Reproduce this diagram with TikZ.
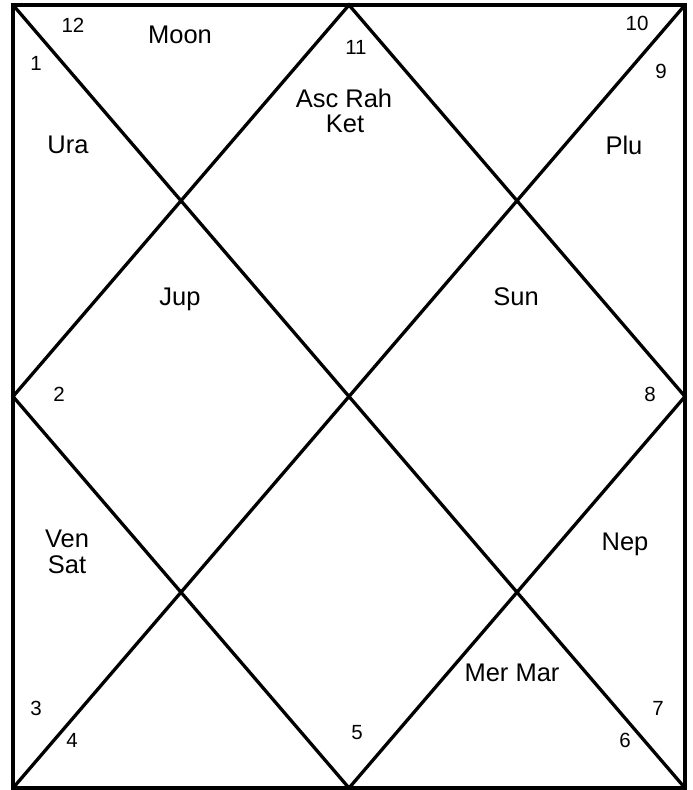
\documentclass[tikz,border=0pt]{standalone}
\usepackage{fontspec}
\setmainfont{Liberation Sans}
\begin{document}
\begin{tikzpicture}[x=1pt,y=-1pt,
  chartline/.style={line width=3.3pt,line join=miter},
  planet/.style={anchor=base,inner sep=0pt,font=\fontsize{25.5}{25.5}\selectfont},
  housenum/.style={anchor=base,inner sep=0pt,font=\fontsize{20.5}{20.5}\selectfont}]
\useasboundingbox (0,0) rectangle (693,790);
\fill[white] (0,0) rectangle (693,790);
\coordinate (tl) at (13,5);
\coordinate (tr) at (685,5);
\coordinate (br) at (685,788);
\coordinate (bl) at (13,788);
\coordinate (tm) at (349,5);
\coordinate (rm) at (685,396.5);
\coordinate (bm) at (349,788);
\coordinate (lm) at (13,396.5);
\draw[chartline] (tl) -- (tr) -- (br) -- (bl) -- cycle;
\draw[chartline] (tl) -- (br);
\draw[chartline] (tr) -- (bl);
\draw[chartline] (tm) -- (rm) -- (bm) -- (lm) -- cycle;
% house numbers
\node[housenum] (n12) at (73,32) {12};
\node[housenum] (n1) at (36,70) {1};
\node[housenum] (n11) at (356,54) {11};
\node[housenum] (n10) at (637,30) {10};
\node[housenum] (n9) at (661,78) {9};
\node[housenum] (n2) at (59,401) {2};
\node[housenum] (n8) at (650,401) {8};
\node[housenum] (n3) at (36,715) {3};
\node[housenum] (n4) at (72,747) {4};
\node[housenum] (n5) at (357,739) {5};
\node[housenum] (n7) at (658,715) {7};
\node[housenum] (n6) at (625,747) {6};
% planets
\node[planet] (moon) at (180,43) {Moon};
\node[planet] (ura) at (68,153) {Ura};
\node[planet] (ascrah) at (344,107) {Asc Rah};
\node[planet] (ket) at (345,132) {Ket};
\node[planet] (plu) at (624,154) {Plu};
\node[planet] (jup) at (180,305) {Jup};
\node[planet] (sun) at (516,305) {Sun};
\node[planet] (ven) at (67,547) {Ven};
\node[planet] (sat) at (67,573) {Sat};
\node[planet] (nep) at (625,550) {Nep};
\node[planet] (mermar) at (512,681) {Mer Mar};
\end{tikzpicture}
\end{document}
